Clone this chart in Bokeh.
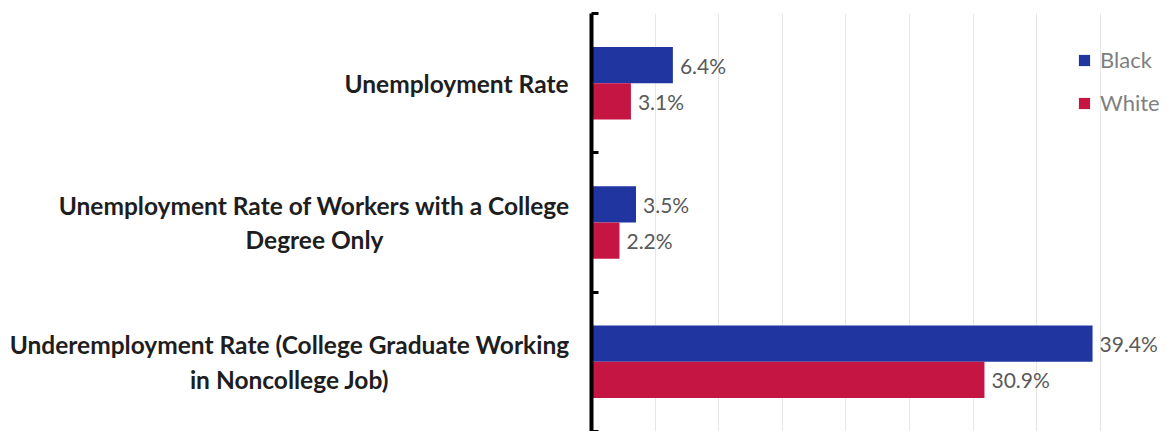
from bokeh.plotting import figure
from bokeh.layouts import row
from bokeh.models import Range1d, FixedTicker, SingleIntervalTicker
from bokeh.core.properties import value
from bokeh.embed import file_html
from bokeh.resources import INLINE

categories = [
    "Unemployment Rate",
    "Unemployment Rate of Workers with a College\nDegree Only",
    "Underemployment Rate (College Graduate Working\nin Noncollege Job)",
]
black = [6.4, 3.5, 39.4]
white = [3.1, 2.2, 30.9]
series = ["Black", "White"]
colors = ["#2135A0", "#C41543"]

# layout: horizontal centre (px) of each category label block in the label panel
label_center_px = [456, 314, 289]

LEFT_W = 581
y_range = Range1d(3, 0)
centers = [i + 0.5 for i in range(len(categories))]

# ---- label panel (left) ----
lp = figure(width=LEFT_W, height=431, output_backend="svg", toolbar_location=None,
            x_range=Range1d(0, LEFT_W), y_range=y_range,
            x_axis_location=None, y_axis_location=None,
            min_border_left=0, min_border_right=0, min_border_top=13, min_border_bottom=0)
lp.outline_line_color = None
lp.grid.visible = False
lp.text(x=label_center_px, y=centers, text=categories, text_align="center",
        text_baseline="middle", text_font=value("Lato"), text_font_style="bold",
        text_font_size="24.5px", text_color="#1e1e1e", text_line_height=1.2)

# ---- bar chart (right) ----
p = figure(width=1167 - LEFT_W, height=431, output_backend="svg", toolbar_location=None,
           x_range=Range1d(0, 44.9), y_range=y_range, x_axis_location=None,
           min_border_left=10, min_border_right=5, min_border_top=13, min_border_bottom=0)
p.outline_line_color = None
p.ygrid.visible = False
p.xgrid.ticker = SingleIntervalTicker(interval=5)
p.xgrid.grid_line_color = "#E6E6E6"
p.xgrid.grid_line_width = 1

bar_h = 0.26
y_black = [c - bar_h / 2 for c in centers]
y_white = [c + bar_h / 2 for c in centers]

for vals, ys, name, col in [(black, y_black, series[0], colors[0]),
                            (white, y_white, series[1], colors[1])]:
    p.hbar(y=ys, left=0, right=vals, height=bar_h, fill_color=col, line_color=None,
           legend_label=name)
    p.text(x=vals, y=ys, text=[f"{v}%" for v in vals], x_offset=7,
           text_baseline="middle", text_align="left", text_font=value("Lato"),
           text_font_size="21px", text_color="#595959")

ax = p.yaxis[0]
ax.ticker = FixedTicker(ticks=centers, minor_ticks=[0, 1, 2, 3])
ax.major_label_overrides = {c: "" for c in centers}
ax.major_label_standoff = 0
ax.axis_line_width = 4
ax.axis_line_color = "black"
ax.major_tick_in = 0
ax.major_tick_out = 0
ax.major_tick_line_color = None
ax.minor_tick_in = 7
ax.minor_tick_out = 0
ax.minor_tick_line_width = 3
ax.minor_tick_line_color = "black"

lg = p.legend[0]
lg.location = (486, 315)
lg.border_line_color = None
lg.background_fill_alpha = 0
lg.padding = 0
lg.margin = 0
lg.glyph_width = 14
lg.glyph_height = 14
lg.label_height = 24
lg.spacing = 16
lg.label_standoff = 9
lg.label_text_font = "Lato"
lg.label_text_font_size = "22px"
lg.label_text_color = "#7F7F7F"

layout = row(lp, p, spacing=0)
open("out.html", "w").write(file_html(layout, INLINE))
